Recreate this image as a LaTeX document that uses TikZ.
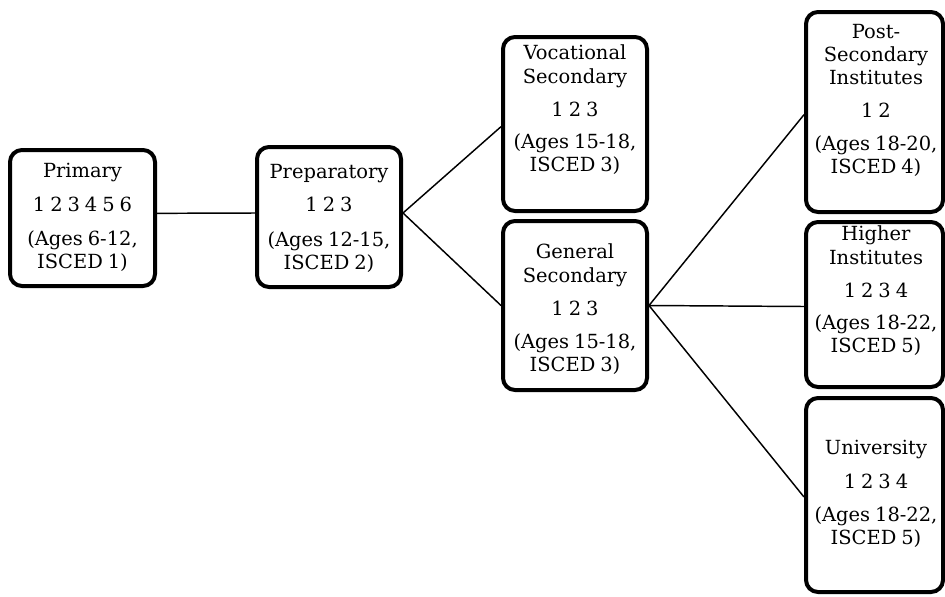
\documentclass[tikz,border=0pt]{standalone}
\usepackage{fontspec}
\setmainfont[WordSpace=0.8]{DejaVu Serif}
\begin{document}
\begin{tikzpicture}[x=0.75pt,y=-0.75pt,
  box/.style={draw, line width=3pt, rounded corners=9pt, inner sep=0pt},
  txt/.style={font=\fontsize{14.6}{22}\selectfont, inner sep=0pt, anchor=base},
  link/.style={line width=1.1pt}]
\useasboundingbox (0,0) rectangle (945,596);

% boxes
\node[box, minimum width=108.75pt, minimum height=102pt] (pri) at (82.5,218) {};
\node[box, minimum width=108pt, minimum height=105pt] (pre) at (329,217) {};
\node[box, minimum width=108pt, minimum height=130.5pt] (voc) at (575,124) {};
\node[box, minimum width=108pt, minimum height=126.75pt] (gen) at (575,305.5) {};
\node[box, minimum width=102.75pt, minimum height=150pt] (pst) at (874.5,112) {};
\node[box, minimum width=102.75pt, minimum height=123.75pt] (hig) at (874.5,304.5) {};
\node[box, minimum width=102.75pt, minimum height=145.5pt] (uni) at (874.5,495) {};

% connectors
\draw[link] ([yshift=3.5pt]pri.east) -- ([yshift=3pt]pre.west);
\draw[link] ([yshift=3pt]pre.east) -- ([yshift=-2pt]voc.west);
\draw[link] ([yshift=3pt]pre.east) -- (gen.west);
\draw[link] (gen.east) -- ([yshift=-2pt]pst.west);
\draw[link] (gen.east) -- ([yshift=-1.5pt]hig.west);
\draw[link] (gen.east) -- ([yshift=-1.5pt]uni.west);

% Primary
\node[txt] (pri1) at (82.5,177) {Primary};
\node[txt] (pri2) at (82.5,211) {1 2 3 4 5 6};
\node[txt] (pri3) at (82.5,245) {(Ages 6-12,};
\node[txt] (pri4) at (82.5,268) {ISCED 1)};
% Preparatory
\node[txt] (pre1) at (329,178) {Preparatory};
\node[txt] (pre2) at (329,211) {1 2 3};
\node[txt] (pre3) at (329,246) {(Ages 12-15,};
\node[txt] (pre4) at (329,269) {ISCED 2)};
% Vocational Secondary
\node[txt] (voc1) at (575,59) {Vocational};
\node[txt] (voc2) at (575,83) {Secondary};
\node[txt] (voc3) at (575,116) {1 2 3};
\node[txt] (voc4) at (575,148) {(Ages 15-18,};
\node[txt] (voc5) at (575,171) {ISCED 3)};
% General Secondary
\node[txt] (gen1) at (575,258) {General};
\node[txt] (gen2) at (575,282) {Secondary};
\node[txt] (gen3) at (575,315) {1 2 3};
\node[txt] (gen4) at (575,348) {(Ages 15-18,};
\node[txt] (gen5) at (575,371) {ISCED 3)};
% Post-Secondary Institutes
\node[txt] (pst1) at (876,38) {Post-};
\node[txt] (pst2) at (876,61) {Secondary};
\node[txt] (pst3) at (876,84) {Institutes};
\node[txt] (pst4) at (876,117) {1 2};
\node[txt] (pst5) at (876,150) {(Ages 18-20,};
\node[txt] (pst6) at (876,173) {ISCED 4)};
% Higher Institutes
\node[txt] (hig1) at (876,240) {Higher};
\node[txt] (hig2) at (876,264) {Institutes};
\node[txt] (hig3) at (876,297) {1 2 3 4};
\node[txt] (hig4) at (876,329) {(Ages 18-22,};
\node[txt] (hig5) at (876,352) {ISCED 5)};
% University
\node[txt] (uni1) at (876,454) {University};
\node[txt] (uni2) at (876,488) {1 2 3 4};
\node[txt] (uni3) at (876,521) {(Ages 18-22,};
\node[txt] (uni4) at (876,544) {ISCED 5)};
\end{tikzpicture}
\end{document}
